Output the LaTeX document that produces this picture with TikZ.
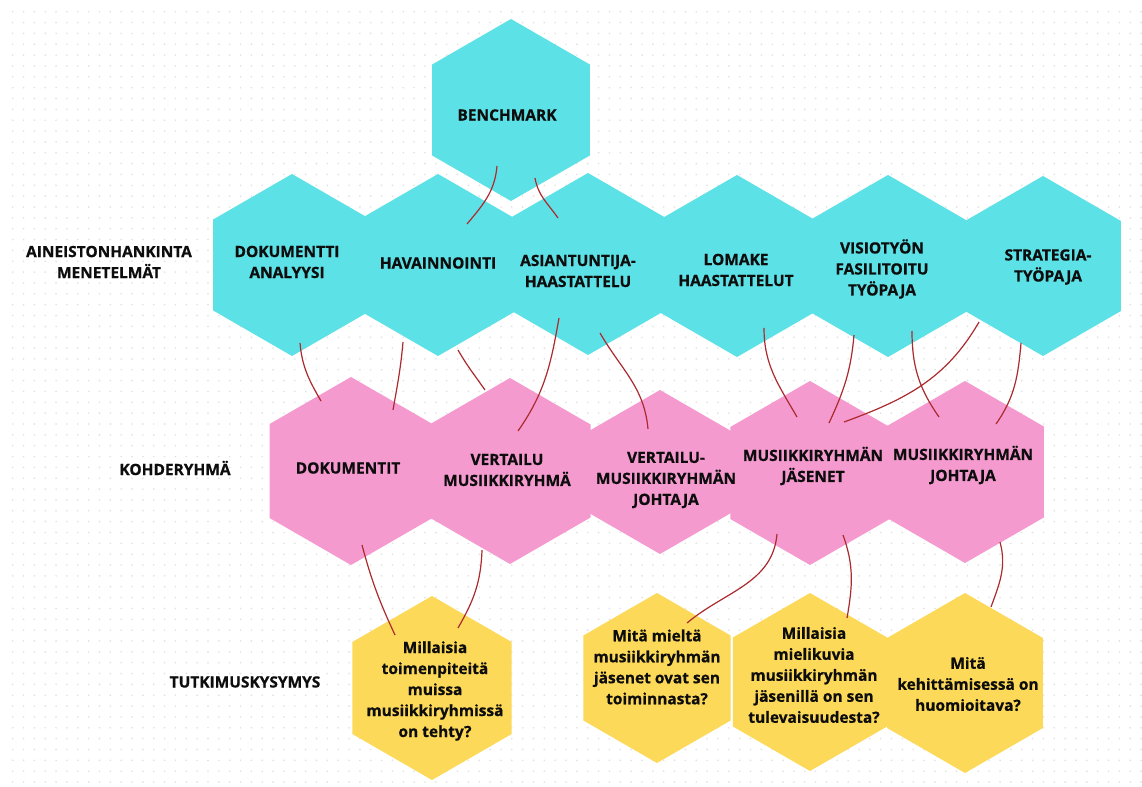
\documentclass[tikz,border=0pt]{standalone}
\usepackage{fontspec}
\setmainfont{Open Sans}[BoldFeatures={FakeBold=0.7}]
\usetikzlibrary{shapes.geometric}

\definecolor{hexcyan}{HTML}{5CE1E6}
\definecolor{hexpink}{HTML}{F49ACF}
\definecolor{hexyellow}{HTML}{FDD95A}
\definecolor{linkred}{HTML}{AC2A2E}
\definecolor{dotgray}{HTML}{E2E2E2}

\tikzset{
  hexa/.style={regular polygon, regular polygon sides=6, shape border rotate=30,
    inner sep=0pt, outer sep=0pt, minimum size={1.5pt*#1}},
  cyanhex/.style={hexa=#1, fill=hexcyan},
  pinkhex/.style={hexa=#1, fill=hexpink},
  yellowhex/.style={hexa=#1, fill=hexyellow},
  txt/.style={font=\bfseries\fontsize{11.6}{15.75}\selectfont, align=center,
    text=black!95, inner sep=0pt},
  link/.style={draw=linkred, line width=0.9pt},
  dotrow/.style={draw=dotgray, line width=1.4pt, line cap=round,
    dash pattern=on 0pt off 8.1375pt},
}

\begin{document}
\begin{tikzpicture}[x=0.75pt,y=0.75pt]
  \useasboundingbox (0,0) rectangle (1142,-787);
  \fill[white] (0,0) rectangle (1142,-787);
  \foreach \j in {0,...,71} {
    \draw[dotrow] (12.7,-11.7-10.85*\j) -- (1142,-11.7-10.85*\j);
  }

  % hexagons
  \node[cyanhex=91] (bench) at (511,-110) {};
  \node[cyanhex=91] (dok) at (292,-265) {};
  \node[cyanhex=91] (hav) at (438,-265) {};
  \node[cyanhex=91] (asi) at (588,-264) {};
  \node[cyanhex=91] (lom) at (737,-266) {};
  \node[cyanhex=91] (vis) at (888,-266) {};
  \node[cyanhex=90] (str) at (1043,-266) {};

  \node[pinkhex=94] (dokt) at (351,-471) {};
  \node[pinkhex=93] (ver) at (510,-471) {};
  \node[pinkhex=82] (verj) at (660,-472) {};
  \node[pinkhex=92] (jas) at (810,-473) {};
  \node[pinkhex=91] (joh) at (965,-472) {};

  \node[yellowhex=92] (q1) at (432,-688) {};
  \node[yellowhex=85] (q2) at (657,-678) {};
  \node[yellowhex=89] (q3) at (810,-682) {};
  \node[yellowhex=90] (q4) at (965,-683) {};

  % texts
  \node[txt] (bench-t) at ([shift={(-4,-5)}]bench) {BENCHMARK};
  \node[txt] (dok-t) at ([shift={(-5,3)}]dok) {DOKUMENTTI\\ANALYYSI};
  \node[txt] (hav-t) at ([shift={(0,2)}]hav) {HAVAINNOINTI};
  \node[txt] (asi-t) at ([shift={(-10,-7)}]asi) {ASIANTUNTIJA-\\HAASTATTELU};
  \node[txt] (lom-t) at ([shift={(-1,-4)}]lom) {LOMAKE\\HAASTATTELUT};
  \node[txt] (vis-t) at ([shift={(-6,-3)}]vis) {VISIOTYÖN\\FASILITOITU\\TYÖPAJA};
  \node[txt] (str-t) at ([shift={(5,-1)}]str) {STRATEGIA-\\TYÖPAJA};

  \node[txt] (dokt-t) at ([shift={(-3,3)}]dokt) {DOKUMENTIT};
  \node[txt] (ver-t) at ([shift={(-3,1)}]ver) {VERTAILU\\MUSIIKKIRYHMÄ};
  \node[txt] (verj-t) at ([shift={(6,-8)}]verj) {VERTAILU-\\MUSIIKKIRYHMÄN\\JOHTAJA};
  \node[txt] (jas-t) at ([shift={(3,7)}]jas) {MUSIIKKIRYHMÄN\\JÄSENET};
  \node[txt] (joh-t) at ([shift={(-2,7)}]joh) {MUSIIKKIRYHMÄN\\JOHTAJA};

  \node[txt] (q1-t) at ([shift={(3,-3)}]q1) {Millaisia\\toimenpiteitä\\muissa\\musiikkiryhmissä\\on tehty?};
  \node[txt] (q2-t) at ([shift={(0,11)}]q2) {Mitä mieltä\\musiikkiryhmän\\jäsenet ovat sen\\toiminnasta?};
  \node[txt] (q3-t) at ([shift={(4,7)}]q3) {Millaisia\\mielikuvia\\musiikkiryhmän\\jäsenillä on sen\\tulevaisuudesta?};
  \node[txt] (q4-t) at ([shift={(3,-1)}]q4) {Mitä\\kehittämisessä on\\huomioitava?};

  \node[txt] (lab1) at (109,-262) {AINEISTONHANKINTA\\MENETELMÄT};
  \node[txt] (lab2) at (175,-468) {KOHDERYHMÄ};
  \node[txt] (lab3) at (245,-682) {TUTKIMUSKYSYMYS};

  % links
  \draw[link] ([shift={(-14,-56)}]bench.center) to[out=265,in=50] ([shift={(29,41)}]hav.center);
  \draw[link] ([shift={(24,-68)}]bench.center) to[out=280,in=125] ([shift={(-30,46)}]asi.center);
  \draw[link] ([shift={(8,-78)}]dok.center) to[out=275,in=120] ([shift={(-30,70)}]dokt.center);
  \draw[link] ([shift={(-35,-77)}]hav.center) to[out=265,in=80] ([shift={(42,61)}]dokt.center);
  \draw[link] ([shift={(20,-85)}]hav.center) to[out=300,in=125] ([shift={(-25,81)}]ver.center);
  \draw[link] ([shift={(-29,-54)}]asi.center) to[out=260,in=55] ([shift={(8,40)}]ver.center);
  \draw[link] ([shift={(12,-69)}]asi.center) to[out=300,in=95] ([shift={(-12,43)}]verj.center);
  \draw[link] ([shift={(27,-62)}]lom.center) to[out=270,in=120] ([shift={(-13,56)}]jas.center);
  \draw[link] ([shift={(-34,-69)}]vis.center) to[out=265,in=65] ([shift={(19,50)}]jas.center);
  \draw[link] ([shift={(-64,-56)}]str.center) to[out=240,in=20] ([shift={(34,51)}]jas.center);
  \draw[link] ([shift={(24,-65)}]vis.center) to[out=270,in=125] ([shift={(-26,55)}]joh.center);
  \draw[link] ([shift={(-22,-77)}]str.center) to[out=265,in=55] ([shift={(31,48)}]joh.center);
  \draw[link] ([shift={(11,-74)}]dokt.center) to[out=285,in=115] ([shift={(-37,53)}]q1.center);
  \draw[link] ([shift={(-28,-79)}]ver.center) to[out=268,in=60] ([shift={(26,60)}]q1.center);
  \draw[link] ([shift={(-33,-61)}]jas.center) to[out=265,in=40] ([shift={(30,55)}]q2.center);
  \draw[link] ([shift={(33,-62)}]jas.center) to[out=290,in=80] ([shift={(37,64)}]q3.center);
  \draw[link] ([shift={(35,-70)}]joh.center) to[out=285,in=70] ([shift={(26,76)}]q4.center);
\end{tikzpicture}
\end{document}
